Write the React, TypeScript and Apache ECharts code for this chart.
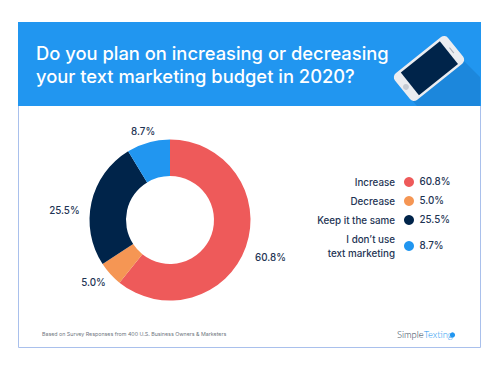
import React, { useEffect, useRef } from "react";
import * as echarts from "echarts";

const titleLines = ["Do you plan on increasing or decreasing", "your text marketing budget in 2020?"];
const categories = ["Increase", "Decrease", "Keep it the same", "I don’t use text marketing"];
const legendLines: Record<string, string> = { "I don’t use text marketing": "I don’t use\ntext marketing" };
const values = [60.8, 5.0, 25.5, 8.7];
const colors = ["#EE5A5A", "#F59654", "#00244A", "#2196F0"];
const footnote = "Based on Survey Responses from 400 U.S. Business Owners & Marketers";
const fontFamily = "Inter, 'Open Sans', sans-serif";
const logoFont = "Lato, sans-serif";
const textColor = "#1E3454";
const valueRowY = [181.5, 200.5, 219.5, 245.5];
const labelNudges = [[-1.5, 9], [5, 4], [-1, 10], [13.5, -5]];

export default function App() {
  const ref = useRef<HTMLDivElement>(null);
  useEffect(() => {
    const chart = echarts.init(ref.current!, null, { renderer: "svg" });
    chart.setOption({
      animation: false,
      backgroundColor: "#fff",
      title: {
        text: titleLines.join("\n"),
        left: 36,
        top: 41,
        padding: 0,
        textStyle: { color: "#fff", fontFamily, fontWeight: 500, fontSize: 18.35, lineHeight: 23 },
      },
      legend: {
        orient: "vertical",
        right: 86,
        top: 175,
        align: "right",
        icon: "circle",
        itemWidth: 10,
        itemHeight: 10,
        itemGap: 5,
        padding: 0,
        selectedMode: false,
        data: categories,
        formatter: (name: string) => legendLines[name] ?? name,
        textStyle: { color: textColor, fontFamily, fontWeight: 500, fontSize: 9.8, lineHeight: 14, align: "right", padding: [0, 4, 0, 0] },
      },
      series: [
        {
          type: "pie",
          center: [170, 220],
          radius: [44, 80.5],
          startAngle: 90,
          clockwise: true,
          avoidLabelOverlap: false,
          data: categories.map((name, i) => ({ name, value: values[i], itemStyle: { color: colors[i] } })),
          label: {
            show: true,
            position: "outside",
            formatter: (p: any) => p.value.toFixed(1) + "%",
            color: textColor,
            fontFamily,
            fontWeight: 500,
            fontSize: 9.8,
          },
          labelLine: { show: false, length: 6, length2: 0 },
          labelLayout: (p: any) => ({ dx: labelNudges[p.dataIndex][0], dy: labelNudges[p.dataIndex][1] }),
        },
      ],
      graphic: [
        { type: "rect", shape: { x: 18.5, y: 22.5, width: 462, height: 325 }, style: { fill: "#fff", stroke: "#A9C0EC", lineWidth: 1 } },
        { type: "rect", shape: { x: 18, y: 22, width: 463, height: 84 }, style: { fill: "#2196F0" } },
        { type: "polygon", shape: { points: [[463, 60], [480, 77], [480, 106], [417, 106], [405, 92]] }, style: { fill: "#1C87DC" } },
        {
          type: "group",
          x: 429,
          y: 68.5,
          rotation: 0.675,
          children: [
            { type: "rect", shape: { x: -34, y: -17, width: 68, height: 34, r: 5 }, style: { fill: "#EBEDF1" } },
            { type: "rect", shape: { x: -24.5, y: -14.5, width: 50, height: 29 }, style: { fill: "#00244A" } },
            { type: "circle", shape: { cx: -29.5, cy: 0, r: 3 }, style: { fill: "#C6CBD3" } },
            { type: "rect", shape: { x: 28.5, y: -3.5, width: 1, height: 7 }, style: { fill: "#A8AEB8" } },
          ],
        },
        { type: "text", x: 42, y: 334, style: { text: footnote, fill: "#6F7680", font: `400 5.3px ${fontFamily}`, textVerticalAlign: "middle" } },
        {
          type: "text",
          x: 397,
          y: 334,
          style: {
            text: "{a|Simple}{b|Texting}",
            textVerticalAlign: "middle",
            rich: {
              a: { fill: "#26384F", font: `300 9.4px ${logoFont}` },
              b: { fill: "#2196F0", font: `300 9.4px ${logoFont}` },
            },
          },
        },
        { type: "circle", shape: { cx: 452.5, cy: 335, r: 2.6 }, style: { fill: "#2196F0" } },
        ...values.map((v, i) => ({
          type: "text",
          x: 419.5,
          y: valueRowY[i],
          style: { text: v.toFixed(1) + "%", fill: textColor, font: `500 9.8px ${fontFamily}`, textVerticalAlign: "middle" },
        })),
      ],
    });
    return () => chart.dispose();
  }, []);
  return <div ref={ref} style={{ width: 500, height: 370, position: "fixed", left: 0, top: 0 }} />;
}
